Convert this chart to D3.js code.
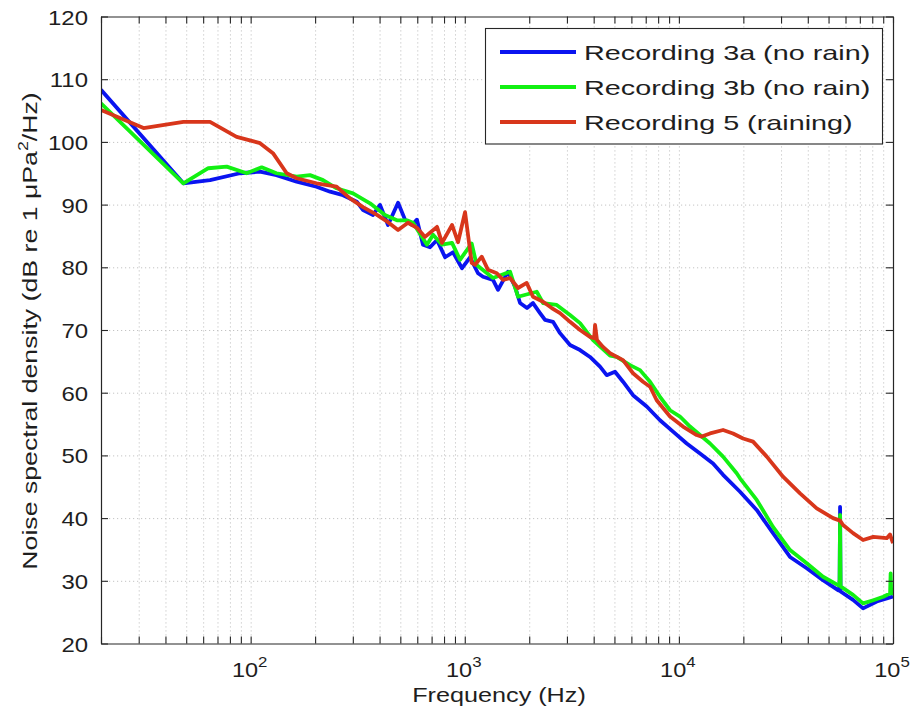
<!DOCTYPE html>
<html>
<head>
<meta charset="utf-8">
<script src="https://cdn.jsdelivr.net/npm/d3@7"></script>
<style>
  body { margin: 0; background: #fff; }
  text { font-family: "Liberation Sans", Arial, Helvetica, sans-serif; fill: #1e1e1e; }
</style>
</head>
<body>
<svg id="chart" width="913" height="720"></svg>
<script>
// Noise spectral density (dB re 1 uPa^2/Hz) against frequency (Hz)
const freq3a = [20, 48.5, 64.6, 89, 110.6, 132, 164, 203, 235, 270, 313, 335, 373, 402, 438, 488, 526, 567, 598, 638, 688, 742, 809, 881, 971, 1058, 1153, 1217, 1355, 1430, 1592, 1717, 1812, 1953, 2083, 2246, 2371, 2583, 2785, 3101, 3454, 3845, 4282, 4601, 5031, 5484, 6107, 7077, 8163, 9392, 10880, 12550, 14440, 16080, 19300, 23090, 27520, 33040, 39550, 47110, 55380, 56300, 56600, 56900, 65080, 72470, 83980, 93500, 100000];
const psd3a  = [108.3, 93.4, 93.9, 95.0, 95.25, 94.7, 93.65, 92.85, 92.06, 91.5, 90.46, 89.14, 88.35, 89.95, 86.75, 90.3, 87.6, 86.75, 87.6, 83.6, 83.2, 84.35, 81.6, 82.4, 79.85, 81.6, 79.05, 78.5, 78.0, 76.4, 79.3, 76.9, 74.3, 73.5, 74.3, 72.7, 71.6, 71.3, 69.5, 67.6, 66.8, 65.7, 64.15, 62.8, 63.35, 61.75, 59.6, 57.8, 55.6, 53.8, 51.9, 50.3, 48.7, 46.9, 44.2, 41.3, 37.6, 33.8, 32.0, 30.1, 28.5, 28.4, 41.8, 28.3, 26.95, 25.6, 26.7, 27.2, 27.5];

const freq3b = [20, 48.5, 63.4, 77.3, 95.8, 112.6, 132, 164, 189.3, 217.8, 252, 300.6, 361, 424, 482, 537, 573, 666, 711, 783, 872, 950, 1077, 1137, 1355, 1627, 1773, 2168, 2321, 2688, 3101, 3454, 3972, 4768, 5125, 5913, 6585, 7333, 8163, 9091, 10120, 11270, 12550, 13980, 16080, 18620, 19300, 23090, 27520, 33040, 39550, 47110, 55380, 56300, 56600, 56900, 65080, 72470, 80900, 90100, 96900, 97500, 98100, 100000];
const psd3b  = [106.15, 93.4, 95.8, 96.05, 95.0, 95.95, 95.0, 94.45, 94.7, 93.9, 92.6, 91.8, 90.2, 88.35, 87.5, 87.5, 87.1, 83.6, 85.2, 83.6, 83.9, 81.2, 83.8, 80.35, 78.3, 79.3, 75.3, 76.1, 74.3, 74.0, 72.4, 71.1, 68.4, 65.9, 65.7, 64.4, 63.6, 61.75, 59.35, 57.2, 56.2, 54.6, 53.25, 51.9, 49.8, 47.15, 46.35, 42.9, 38.6, 34.9, 32.8, 30.65, 29.3, 29.2, 40.5, 29.1, 27.75, 26.4, 26.9, 27.45, 28.0, 31.2, 28.0, 28.0];

const freq5 = [20, 31.6, 48.5, 64.6, 86, 110.6, 127.1, 147.4, 164, 203, 252, 291, 335, 389, 438, 488, 543, 598, 652, 688, 742, 783, 872, 930, 1003, 1077, 1117, 1200, 1284, 1411, 1510, 1627, 1773, 1947, 2083, 2321, 2548, 2785, 3101, 3454, 3845, 4020, 4060, 4144, 4422, 4768, 5484, 6107, 6802, 7333, 7876, 9091, 10450, 12110, 12780, 13980, 16080, 17900, 19940, 22200, 25730, 30650, 36800, 44030, 52480, 56600, 58450, 65080, 72470, 80900, 93500, 96800, 100000];
const psd5  = [105.1, 102.2, 103.2, 103.2, 100.8, 99.8, 98.2, 95.0, 94.2, 93.4, 92.85, 91.0, 89.6, 88.35, 87.2, 85.95, 87.1, 86.3, 84.85, 85.5, 86.45, 83.9, 86.75, 84.0, 88.8, 80.7, 80.4, 81.7, 79.6, 79.05, 78.0, 78.3, 76.7, 77.5, 75.3, 74.5, 73.5, 72.7, 71.3, 70.0, 68.9, 68.7, 70.8, 68.4, 67.3, 66.3, 65.2, 63.1, 61.75, 60.95, 58.8, 56.2, 54.6, 53.25, 53.0, 53.5, 54.05, 53.5, 52.7, 52.2, 49.8, 46.6, 43.95, 41.55, 40.0, 39.6, 38.9, 37.6, 36.5, 37.0, 36.8, 37.4, 36.0];

const seriesNames  = ["Recording 3a (no rain)", "Recording 3b (no rain)", "Recording 5 (raining)"];
const seriesColors = ["#0a14f0", "#12f012", "#d8361b"];
const yTicks = [20, 30, 40, 50, 60, 70, 80, 90, 100, 110, 120];
const xDecades = [2, 3, 4, 5];

const svg = d3.select("#chart");
const M = { left: 101, right: 893, top: 16.5, bottom: 643.5 };
const W = M.right - M.left, H = M.bottom - M.top;

const x = d3.scaleLog().domain([20, 1e5]).range([M.left, M.right]);
const y = d3.scaleLinear().domain([20, 120]).range([M.bottom, M.top]);

// stretch text along its reading direction
function stretch(sel, k) {
  sel.each(function () {
    const len = this.getComputedTextLength();
    d3.select(this).attr("textLength", len * k).attr("lengthAdjust", "spacingAndGlyphs");
  });
}

const xTickVals = x.ticks().filter(v => v >= 20 && v <= 1e5);
const gridX = xTickVals.filter(v => v > 20 && v < 1e5);
const gridY = yTicks.filter(v => v > 20 && v < 120);

// dotted grid
const grid = svg.append("g").attr("class", "grid");
grid.append("g")
  .attr("transform", `translate(0,${M.bottom})`)
  .call(d3.axisBottom(x).tickValues(gridX).tickSize(-H).tickFormat(""))
  .call(g => g.select(".domain").remove());
grid.append("g")
  .attr("transform", `translate(${M.left},0)`)
  .call(d3.axisLeft(y).tickValues(gridY).tickSize(-W).tickFormat(""))
  .call(g => g.select(".domain").remove());
grid.selectAll("line").attr("stroke", "#c4c4c4").attr("stroke-width", 1).attr("stroke-dasharray", "1.2,2.8");

// curves
const line = d3.line().x(d => x(d[0])).y(d => y(d[1])).curve(d3.curveLinear);
const series = [
  { f: freq3a, v: psd3a },
  { f: freq3b, v: psd3b },
  { f: freq5,  v: psd5 }
];
svg.append("clipPath").attr("id", "plotclip")
  .append("rect").attr("x", M.left).attr("y", M.top).attr("width", W).attr("height", H);
svg.append("g").attr("clip-path", "url(#plotclip)")
  .selectAll("path").data(series).join("path")
  .attr("d", s => line(s.f.map((f, i) => [f, s.v[i]])))
  .attr("fill", "none")
  .attr("stroke", (s, i) => seriesColors[i])
  .attr("stroke-width", 3.8)
  .attr("stroke-linejoin", "round")
  .attr("stroke-linecap", "butt");

// axes with inward ticks on all four sides
const tickLen = 7;
function styleAxis(g) {
  g.selectAll(".domain").attr("stroke", "#262626").attr("stroke-width", 1.2);
  g.selectAll(".tick line").attr("stroke", "#262626").attr("stroke-width", 1.1);
}
svg.append("g").attr("transform", `translate(0,${M.bottom})`)
  .call(d3.axisBottom(x).tickValues(xTickVals).tickSize(-tickLen).tickSizeOuter(0).tickFormat(""))
  .call(styleAxis);
svg.append("g").attr("transform", `translate(0,${M.top})`)
  .call(d3.axisTop(x).tickValues(xTickVals).tickSize(-tickLen).tickSizeOuter(0).tickFormat(""))
  .call(styleAxis);
const yAxisL = svg.append("g").attr("transform", `translate(${M.left},0)`)
  .call(d3.axisLeft(y).tickValues(yTicks).tickSize(-tickLen).tickSizeOuter(0).tickPadding(13))
  .call(styleAxis);
svg.append("g").attr("transform", `translate(${M.right},0)`)
  .call(d3.axisRight(y).tickValues(yTicks).tickSize(-tickLen).tickSizeOuter(0).tickFormat(""))
  .call(styleAxis);

yAxisL.selectAll(".tick text")
  .attr("font-size", 21).attr("fill", "#1e1e1e").attr("dy", "0.36em")
  .style("font-family", '"Liberation Sans", Arial, sans-serif');
stretch(yAxisL.selectAll(".tick text"), 1.14);

// decade labels 10^n
const xl = svg.append("g");
xDecades.forEach(n => {
  const t = xl.append("text")
    .attr("x", x(Math.pow(10, n)) - 1)
    .attr("y", 677)
    .attr("text-anchor", "middle")
    .attr("font-size", 21);
  t.append("tspan").text("10");
  t.append("tspan").attr("font-size", 15).attr("dy", -10).text(n);
  stretch(t, 1.12);
});

// axis titles
svg.append("text")
  .attr("x", (M.left + M.right) / 2 + 2).attr("y", 702)
  .attr("text-anchor", "middle").attr("font-size", 21)
  .text("Frequency (Hz)")
  .call(s => stretch(s, 1.2));

const yl = svg.append("text")
  .attr("transform", `translate(37,${(M.top + M.bottom) / 2 + 1}) rotate(-90)`)
  .attr("text-anchor", "middle").attr("font-size", 21);
yl.append("tspan").text("Noise spectral density (dB re 1 \u03bcPa");
yl.append("tspan").attr("font-size", 14).attr("dy", -9).text("2");
yl.append("tspan").attr("dy", 9).text("/Hz)");
stretch(yl, 1.27);

// legend
const legend = svg.append("g");
legend.append("rect")
  .attr("x", 485.5).attr("y", 28.5).attr("width", 397).attr("height", 115.5)
  .attr("fill", "#fff").attr("stroke", "#262626").attr("stroke-width", 1.1);
const rows = legend.selectAll("g.row").data(seriesNames).join("g")
  .attr("transform", (d, i) => `translate(0,${52 + i * 35})`);
rows.append("line")
  .attr("x1", 500).attr("x2", 576).attr("y1", 0).attr("y2", 0)
  .attr("stroke", (d, i) => seriesColors[i]).attr("stroke-width", 3.8);
rows.append("text")
  .attr("x", 584).attr("y", 7.5).attr("font-size", 21)
  .text(d => d);
stretch(rows.selectAll("text"), 1.37);
</script>
</body>
</html>
